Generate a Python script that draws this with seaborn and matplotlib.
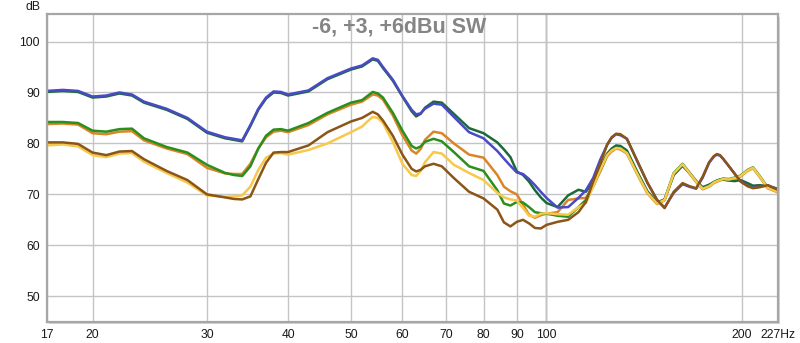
import numpy as np
import pandas as pd
import matplotlib
matplotlib.use('Agg')
import matplotlib.pyplot as plt
from matplotlib.patches import Rectangle
from matplotlib.ticker import FixedLocator, FixedFormatter, NullLocator
import seaborn as sns

# frequency points (Hz) shared by all traces
freq = [17, 18, 19, 20, 21, 22, 23, 24,
        26, 28, 30, 32, 33, 34,
        35, 36, 37, 38, 39, 40,
        43, 46, 50, 52, 53, 54, 55, 56, 58, 60,
        62, 63, 64, 65, 67, 69, 72, 76, 80,
        84, 86, 88, 90, 92, 94, 96, 98, 100,
        104, 108, 112, 115, 118, 121, 124, 126, 128, 130,
        133, 138, 143, 148, 152, 157, 162, 166,
        170, 174, 178, 181, 183, 185, 187, 191, 195, 199,
        204, 208, 213, 219, 227]

blue = [90.3, 90.5, 90.3, 89.2, 89.4, 90.0, 89.6, 88.2,
        86.8, 85.0, 82.3, 81.2, 80.9, 80.6,
        83.6, 86.8, 89.0, 90.2, 90.1, 89.6,
        90.4, 92.8, 94.7, 95.3, 96.0, 96.7, 96.4, 95.0, 92.5, 89.3,
        86.6, 85.7, 85.9, 86.8, 87.8, 87.6, 85.2, 82.2, 81.0,
        78.5, 77.0, 75.6, 74.3, 74.0, 73.0, 71.8, 70.5, 69.3,
        67.4, 67.5, 69.3, 70.8, 73.2, 76.8, 79.7, 81.1, 81.8, 81.6,
        80.9, 76.5, 72.3, 68.9, 67.4, 70.3, 72.0, 71.5,
        71.1, 73.3, 76.2, 77.4, 77.8, 77.6, 77.0, 75.5, 74.0, 72.6,
        71.7, 71.3, 71.5, 71.8, 71.0]

dark_green = [90.1, 90.3, 90.1, 89.0, 89.2, 89.8, 89.4, 88.0,
              86.6, 84.8, 82.1, 81.0, 80.7, 80.4,
              83.4, 86.6, 88.8, 90.0, 89.9, 89.4,
              90.2, 92.6, 94.5, 95.1, 95.8, 96.5, 96.2, 94.8, 92.3, 89.2,
              86.3, 85.3, 85.8, 87.0, 88.2, 88.0, 85.8, 83.0, 82.0,
              80.2, 78.8, 77.3, 74.5, 73.8, 72.5, 70.8, 69.4, 68.3,
              67.5, 69.8, 70.9, 70.5, 72.5, 75.2, 78.0, 79.0, 79.6, 79.5,
              78.6, 74.4, 70.6, 68.4, 69.0, 73.8, 75.6, 74.2,
              72.6, 71.4, 71.9, 72.4, 72.7, 72.9, 72.9, 72.7, 72.6, 72.8,
              72.2, 71.7, 71.8, 71.6, 71.1]

green = [84.2, 84.2, 84.0, 82.5, 82.3, 82.8, 82.9, 81.0,
         79.3, 78.2, 75.8, 74.2, 73.8, 73.6,
         75.5, 79.0, 81.5, 82.7, 82.8, 82.5,
         84.0, 86.0, 88.0, 88.5, 89.3, 90.1, 89.8, 89.0, 86.0, 82.5,
         79.5, 79.0, 79.4, 80.3, 80.9, 80.4, 78.3, 75.5, 74.6,
         70.8, 68.2, 67.8, 68.5, 68.4, 67.5, 66.5, 66.3, 66.2,
         65.8, 65.6, 67.5, 68.9, 71.8, 74.7, 77.7, 78.7, 79.3, 79.1,
         78.2, 74.1, 70.4, 68.3, 69.0, 74.2, 76.0, 74.3,
         72.6, 71.2, 71.7, 72.4, 72.7, 72.9, 73.1, 73.0, 73.3, 73.7,
         74.8, 75.3, 73.6, 71.4, 70.6]

orange = [83.8, 83.9, 83.7, 82.0, 81.8, 82.3, 82.4, 80.6,
          79.0, 77.9, 75.2, 74.1, 74.0, 74.0,
          76.0, 79.0, 81.2, 82.3, 82.5, 82.2,
          83.6, 85.7, 87.6, 88.2, 88.9, 89.6, 89.4, 88.6, 85.5, 81.6,
          78.6, 78.0, 78.9, 80.7, 82.3, 82.0, 80.0, 77.8, 77.2,
          73.8, 71.5, 70.6, 70.0, 68.0, 66.0, 65.4, 65.9, 66.2,
          66.5, 68.9, 69.2, 69.3, 71.5, 74.5, 77.5, 78.4, 79.0, 78.8,
          78.0, 73.9, 70.2, 68.1, 68.8, 74.0, 75.8, 74.1,
          72.4, 71.0, 71.5, 72.2, 72.5, 72.7, 72.9, 72.8, 73.1, 73.5,
          74.6, 75.1, 73.4, 71.2, 70.4]

yellow = [79.6, 79.8, 79.4, 77.7, 77.3, 78.0, 78.1, 76.4,
          74.2, 72.3, 69.8, 69.5, 69.6, 69.8,
          71.5, 74.8, 77.2, 78.0, 78.1, 77.8,
          78.7, 80.0, 82.2, 83.3, 84.3, 85.2, 85.0, 84.0, 80.3, 76.0,
          73.8, 73.6, 74.6, 76.3, 78.3, 78.0, 75.8, 74.2, 72.8,
          70.3, 69.4, 69.0, 68.8, 67.3, 65.8, 65.6, 66.2, 66.3,
          66.1, 66.0, 67.5, 68.3, 71.5, 74.8, 77.7, 78.6, 79.1, 79.0,
          78.1, 74.0, 70.3, 68.2, 68.9, 74.1, 75.9, 74.2,
          72.5, 71.1, 71.6, 72.3, 72.6, 72.8, 73.0, 72.9, 73.2, 73.6,
          74.7, 75.2, 73.5, 71.3, 70.5]

brown = [80.2, 80.2, 79.9, 78.2, 77.7, 78.4, 78.5, 76.9,
         74.6, 72.8, 70.0, 69.4, 69.1, 69.0,
         69.6, 73.0, 76.2, 78.2, 78.3, 78.3,
         79.6, 82.2, 84.3, 85.0, 85.6, 86.2, 85.7, 84.5, 81.5, 77.8,
         75.0, 74.5, 74.8, 75.5, 76.0, 75.5, 73.2, 70.5, 69.2,
         67.0, 64.5, 63.7, 64.6, 65.0, 64.3, 63.4, 63.3, 64.0,
         64.6, 65.0, 66.5, 68.5, 72.5, 76.0, 79.8, 81.2, 81.9, 81.8,
         80.9, 76.5, 72.3, 68.9, 67.3, 70.5, 72.2, 71.6,
         71.2, 73.5, 76.3, 77.5, 77.9, 77.7, 77.0, 75.5, 74.0, 72.5,
         71.6, 71.2, 71.4, 71.8, 70.9]

# drawing order: first listed is drawn underneath
traces = {'orange': orange, 'green': green, 'dark green': dark_green,
          'blue': blue, 'yellow': yellow, 'brown': brown}
colors = {'orange': '#db8428', 'green': '#2a8f1c', 'dark green': '#1b6a3a',
          'blue': '#4a4ac4', 'yellow': '#f6c94a', 'brown': '#8a5516'}

tick_vals = [17, 20, 30, 40, 50, 60, 70, 80, 90, 100, 200, 227]
tick_text = ['17', '20', '30', '40', '50', '60', '70', '80', '90', '100', '200', '227Hz']
y_ticks = [50, 60, 70, 80, 90, 100]
title = '-6, +3, +6dBu SW'

df = pd.concat([pd.DataFrame({'freq': freq, 'spl': v, 'trace': k}) for k, v in traces.items()],
               ignore_index=True)

sns.set_style('white')
plt.rcParams['font.family'] = ['Liberation Sans', 'DejaVu Sans']

fig = plt.figure(figsize=(8, 3.43), dpi=100)
ax = fig.add_axes([0.05838, 0.0621, 0.91375, 0.89708])

# drop shadow behind the plot frame
fig.patches.append(Rectangle((0.05838 + 2.5 / 800, 0.0621 - 2.5 / 343), 0.91375, 0.89708,
                             transform=fig.transFigure, facecolor='#d4d4d4',
                             edgecolor='none', zorder=-5))

sns.lineplot(data=df, x='freq', y='spl', hue='trace', hue_order=list(traces),
             palette=colors, sort=False, estimator=None, legend=False,
             linewidth=1.8, solid_joinstyle='round', solid_capstyle='round', ax=ax)

ax.set_xscale('log')
ax.set_xlim(17, 227)
ax.set_ylim(45.0, 105.4)
ax.xaxis.set_major_locator(FixedLocator(tick_vals))
ax.xaxis.set_major_formatter(FixedFormatter(tick_text))
ax.xaxis.set_minor_locator(NullLocator())
ax.set_yticks(y_ticks)
ax.tick_params(axis='both', length=0, labelsize=8.7, colors='#1a1a1a')
ax.tick_params(axis='x', pad=5.5)
ax.tick_params(axis='y', pad=5)
ax.set_xlabel('')
ax.set_ylabel('')

ax.grid(True, color='#c4c4c4', linewidth=1.0)
ax.set_axisbelow(True)
ax.axvline(100, color='#8c8c8c', linewidth=1.0, zorder=0.5)

for s in ax.spines.values():
    s.set_color('#a6a6a6')
    s.set_linewidth(1.6)

ax.text(0.482, 0.9415, title, transform=ax.transAxes, ha='center', va='baseline',
        fontsize=15.5, fontweight='bold', color='#858585')
fig.text(32.5 / 800, 1 - 10 / 343, 'dB', ha='center', va='baseline',
         fontsize=8.7, color='#1a1a1a')

fig.savefig('out.png', dpi=100)
